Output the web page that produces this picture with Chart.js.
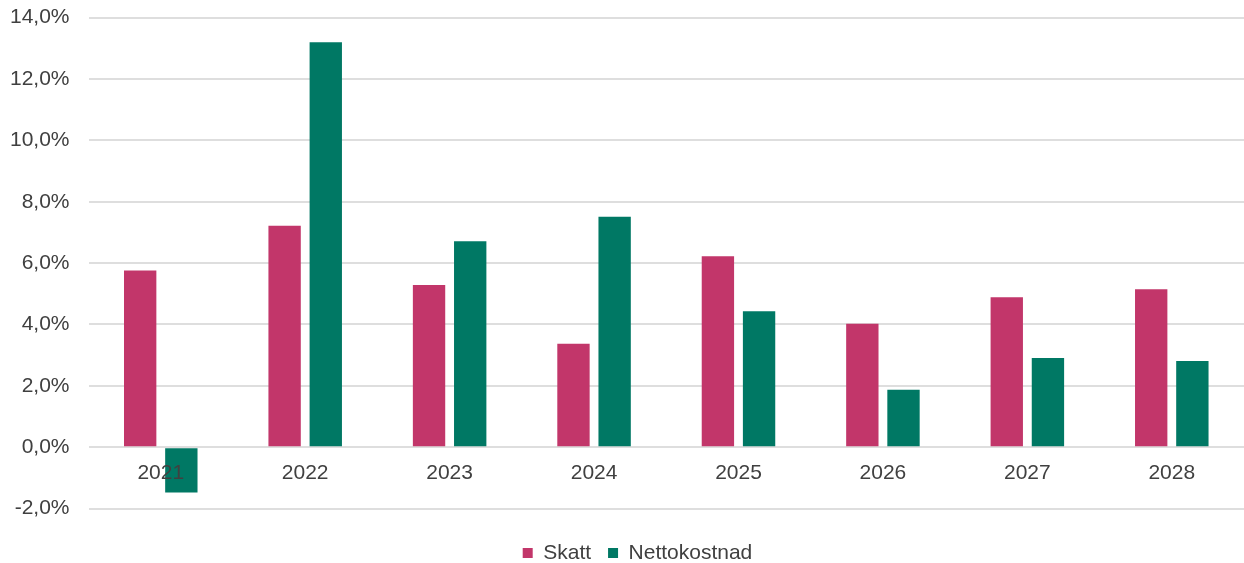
<!DOCTYPE html>
<html>
<head>
<meta charset="utf-8">
<script src="https://cdn.jsdelivr.net/npm/chart.js@4/dist/chart.umd.min.js"></script>
<style>
html,body{margin:0;padding:0;background:#fff;overflow:hidden;}
#wrap{width:1244px;height:563px;position:relative;}
</style>
</head>
<body>
<div id="wrap"><canvas id="c"></canvas></div>
<script>
const categories = ['2021','2022','2023','2024','2025','2026','2027','2028'];
const skatt = [5.76, 7.22, 5.29, 3.37, 6.22, 4.02, 4.89, 5.15];
const nettokostnad = [-1.48, 13.2, 6.71, 7.51, 4.43, 1.87, 2.91, 2.81];
const yTicks = [-2, 0, 2, 4, 6, 8, 10, 12, 14];

const fontFamily = '"Liberation Sans", Arial, sans-serif';
const textColor = '#404040';

const legendShift = {
  id: 'legendShift',
  afterLayout(chart) {
    if (chart.legend) { chart.legend.left += 20; chart.legend.right += 20; }
  }
};

const chart = new Chart(document.getElementById('c'), {
  type: 'bar',
  data: {
    labels: categories,
    datasets: [
      { label: 'Skatt', data: skatt, backgroundColor: '#C2366A', borderWidth: 0,
        categoryPercentage: 0.57, barPercentage: 0.786 },
      { label: 'Nettokostnad', data: nettokostnad, backgroundColor: '#007864', borderWidth: 0,
        categoryPercentage: 0.57, barPercentage: 0.786 }
    ]
  },
  plugins: [legendShift],
  options: {
    responsive: true,
    maintainAspectRatio: false,
    animation: false,
    layout: { padding: { top: 0, right: 0, left: -9, bottom: -10.5 } },
    plugins: {
      tooltip: { enabled: false },
      legend: {
        position: 'bottom',
        title: { display: true, text: '', font: { size: 10 }, padding: { top: 5, bottom: 0 } },
        labels: {
          boxWidth: 10, boxHeight: 10, padding: 17,
          color: textColor,
          font: { family: fontFamily, size: 21 }
        }
      }
    },
    scales: {
      x: {
        position: { y: 0 },
        grid: { display: false },
        border: { display: false },
        ticks: { z: 1, color: textColor, padding: 5, font: { family: fontFamily, size: 21 } }
      },
      y: {
        min: -2, max: 14,
        afterBuildTicks: (axis) => { axis.ticks = yTicks.map(v => ({ value: v })); },
        afterFit: (axis) => { axis.paddingTop = 17.7; axis.paddingBottom = 54.3; },
        grid: { color: '#DEDEDE', lineWidth: 2, drawTicks: false },
        border: { display: false },
        ticks: {
          color: textColor, padding: 19,
          font: { family: fontFamily, size: 21 },
          callback: (v) => v.toFixed(1).replace('.', ',') + '%'
        }
      }
    }
  }
});
</script>
</body>
</html>
